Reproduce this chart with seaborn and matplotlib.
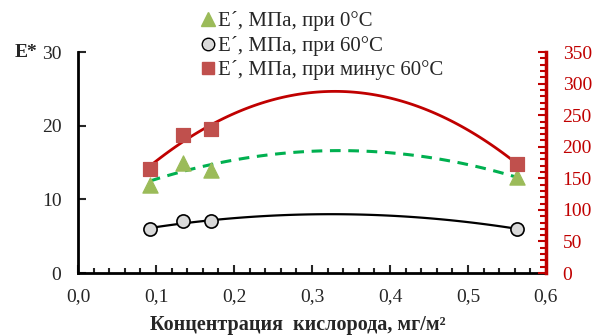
import numpy as np
import pandas as pd
import matplotlib
matplotlib.use("Agg")
import matplotlib.pyplot as plt
import seaborn as sns
from matplotlib.ticker import MultipleLocator, FuncFormatter
from matplotlib.lines import Line2D

sns.set_theme(style="white")
plt.rcParams['font.family'] = ['Liberation Serif', 'DejaVu Serif']

x_vals = [0.092, 0.135, 0.170, 0.563]
e_0 = [12.0, 15.0, 14.0, 13.0]
e_60 = [6.0, 7.0, 7.0, 6.0]
e_m60 = [165, 219, 228, 173]
labels = ["E´, МПа, при 0°С", "E´, МПа, при 60°С", "E´, МПа, при минус 60°С"]

df = pd.DataFrame({"x": x_vals, "e0": e_0, "e60": e_60, "em60": e_m60})

fig = plt.figure(figsize=(5.96, 3.36), dpi=100)
ax = fig.add_axes([0.131, 0.1875, 0.785, 0.6575])
ax2 = ax.twinx()

red_line = "#C00000"
green_line = "#00B050"
tri_col = "#9BBB59"
sq_col = "#C0504D"

# fitted trend lines (2nd-order polynomial)
sns.regplot(data=df, x="x", y="e0", order=2, ci=None, scatter=False, ax=ax,
            line_kws=dict(color=green_line, lw=2.2, ls=(0, (3.5, 2.5))))
sns.regplot(data=df, x="x", y="e60", order=2, ci=None, scatter=False, ax=ax,
            line_kws=dict(color="black", lw=1.6))
sns.regplot(data=df, x="x", y="em60", order=2, ci=None, scatter=False, ax=ax2,
            line_kws=dict(color=red_line, lw=2.0))

# markers
sns.scatterplot(data=df, x="x", y="e0", ax=ax, marker="^", s=120, color=tri_col,
                edgecolor=tri_col, zorder=5, legend=False)
sns.scatterplot(data=df, x="x", y="e60", ax=ax, marker="o", s=90, color="#D9D9D9",
                edgecolor="black", linewidth=1.2, zorder=5, legend=False)
sns.scatterplot(data=df, x="x", y="em60", ax=ax2, marker="s", s=115, color=sq_col,
                edgecolor=sq_col, zorder=5, legend=False)

ax.set_xlim(0, 0.6)
ax.set_ylim(0, 30)
ax2.set_ylim(0, 350)
ax.set_xlabel("Концентрация  кислорода, мг/м²", fontsize=14.5, fontweight="bold")
ax.xaxis.set_label_coords(0.47, -0.19)
ax.set_ylabel("")
ax2.set_ylabel("")

ax.xaxis.set_major_locator(MultipleLocator(0.1))
ax.xaxis.set_minor_locator(MultipleLocator(0.02))
ax.xaxis.set_major_formatter(FuncFormatter(lambda v, p: f"{v:.1f}".replace(".", ",")))
ax.yaxis.set_major_locator(MultipleLocator(10))
ax2.yaxis.set_major_locator(MultipleLocator(50))
ax2.yaxis.set_minor_locator(MultipleLocator(10))

ax.tick_params(axis="x", which="major", direction="in", length=6, width=1.5,
               labelsize=14, pad=11, bottom=True)
ax.tick_params(axis="x", which="minor", direction="in", length=3.5, width=1.5, bottom=True)
ax.tick_params(axis="y", which="major", direction="in", length=6, width=1.5,
               labelsize=14, pad=12, left=True)
ax2.tick_params(axis="y", which="major", direction="in", length=6, width=1.5,
                labelsize=14, colors=red_line, pad=12, right=True)
ax2.tick_params(axis="y", which="minor", direction="in", length=4, width=1.5,
                colors=red_line, right=True)

for a in (ax, ax2):
    a.spines["top"].set_visible(False)
    a.grid(False)
ax.spines["right"].set_visible(False)
ax2.spines["left"].set_visible(False)
ax2.spines["bottom"].set_visible(False)
ax.spines["left"].set_linewidth(2)
ax.spines["bottom"].set_linewidth(2)
ax.spines["left"].set_color("black")
ax.spines["bottom"].set_color("black")
ax2.spines["right"].set_color(red_line)
ax2.spines["right"].set_linewidth(2.5)

fig.text(0.025, 0.845, "E*", fontsize=14, fontweight="bold", va="center", ha="left")

handles = [
    Line2D([], [], ls="none", marker="^", ms=10, color=tri_col, mec=tri_col),
    Line2D([], [], ls="none", marker="o", ms=9, color="#D9D9D9", mec="black", mew=1.0),
    Line2D([], [], ls="none", marker="s", ms=9, color=sq_col, mec=sq_col),
]
fig.legend(handles, labels, loc="upper left", bbox_to_anchor=(0.312, 1.01),
           frameon=False, fontsize=15, handlelength=0.7, handletextpad=0.15,
           labelspacing=0.22, borderpad=0.2)

fig.savefig("out.png", dpi=100)
